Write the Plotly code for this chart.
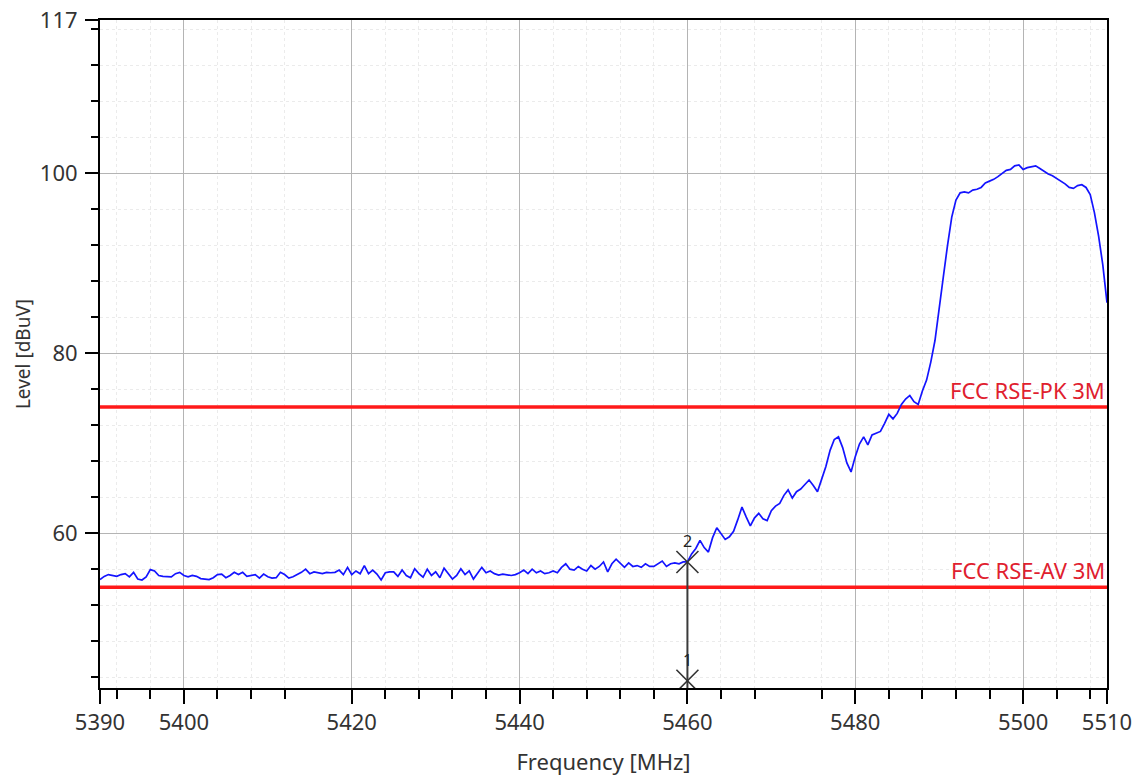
import plotly.graph_objects as go

# ---------------- data ----------------
freq_start_mhz = 5390.0
freq_step_mhz = 0.5

level_dbuv = [
    # 5390 - 5424.5
    54.85, 55.2, 55.4, 55.3, 55.2, 55.4, 55.5, 55.15, 55.65, 54.9,
    54.8, 55.15, 55.95, 55.8, 55.3, 55.2, 55.15, 55.15, 55.5, 55.65,
    55.3, 55.15, 55.3, 55.2, 54.95, 54.9, 54.85, 55.05, 55.4, 55.45,
    55.05, 55.3, 55.65, 55.4, 55.65, 55.2, 55.3, 55.4, 55.0, 55.45,
    55.15, 55.0, 55.05, 55.65, 55.4, 55.0, 55.15, 55.4, 55.65, 56.0,
    55.5, 55.7, 55.6, 55.5, 55.65, 55.6, 55.65, 55.9, 55.4, 56.2,
    55.4, 55.8, 55.5, 56.4, 55.5, 55.9, 55.45, 54.8, 55.6, 55.7,
    # 5425 - 5460
    55.7, 55.2, 55.9, 55.3, 55.05, 56.05, 55.5, 55.1, 56.0, 55.3,
    55.7, 55.05, 56.1, 55.5, 54.9, 55.3, 56.05, 55.4, 55.8, 54.9,
    55.5, 56.2, 55.6, 55.8, 55.5, 55.35, 55.45, 55.35, 55.3, 55.4,
    55.6, 55.9, 55.5, 56.0, 55.6, 55.8, 55.5, 55.6, 55.8, 55.6,
    56.2, 56.6, 56.0, 55.9, 56.3, 56.0, 55.8, 56.4, 56.0, 56.3,
    56.8, 55.7, 56.6, 57.1, 56.6, 56.2, 56.7, 56.3, 56.4, 56.2,
    56.6, 56.3, 56.3, 56.6, 56.9, 56.3, 56.6, 56.7, 56.6, 56.8,
    56.8,
    # 5460.5 - 5510
    57.7, 58.3, 59.2, 58.4, 57.9, 59.5, 60.6, 60.0, 59.3, 59.6,
    60.2, 61.5, 62.9, 61.8, 60.8, 61.7, 62.2, 61.6, 61.4, 62.5,
    63.0, 63.3, 64.2, 64.8, 63.9, 64.6, 64.9, 65.4, 65.9, 65.3,
    64.6, 66.0, 67.4, 69.2, 70.4, 70.7, 69.5, 67.8, 66.8, 68.5,
    69.9, 70.7, 69.8, 70.9, 71.1, 71.3, 72.2, 73.2, 72.7, 73.3,
    74.3, 74.9, 75.3, 74.6, 74.3, 75.8, 77.0, 79.0, 81.4, 85.2,
    88.5, 92.0, 95.1, 97.0, 97.8, 97.9, 97.8, 98.1, 98.2, 98.4,
    98.9, 99.1, 99.3, 99.6, 100.0, 100.3, 100.4, 100.8, 100.9, 100.4,
    100.6, 100.7, 100.8, 100.5, 100.2, 99.9, 99.7, 99.4, 99.1, 98.8,
    98.4, 98.3, 98.6, 98.7, 98.4, 97.6, 95.6, 93.0, 89.8, 85.6,
]
freq_mhz = [freq_start_mhz + freq_step_mhz * i for i in range(len(level_dbuv))]

limit_names = ["FCC RSE-PK 3M", "FCC RSE-AV 3M"]
limit_levels = [74.0, 54.0]

marker_ids = ["1", "2"]
marker_freqs = [5460.0, 5460.0]
marker_levels = [43.6, 56.8]

x_range = [5390, 5510]
y_range = [42.8, 117]
x_tick_vals = [5390, 5400, 5420, 5440, 5460, 5480, 5500, 5510]
x_minor_vals = [5392, 5396, 5404, 5408, 5412, 5424, 5428, 5432, 5436, 5444,
                5448, 5452, 5456, 5464, 5468, 5476, 5484, 5488, 5492, 5496,
                5504, 5508]
y_tick_vals = [60, 80, 100, 117]
y_minor_vals = [44, 48, 52, 56, 64, 68, 72, 76, 84, 88, 92, 96, 104, 108, 112, 116]

x_title = "Frequency [MHz]"
y_title = "Level [dBuV]"

# ---------------- styling ----------------
FONT = "Noto Sans"
TICK_COLOR = "#333333"
LIMIT_COLOR = "#ff1a1a"
LIMIT_TEXT = "#e0202e"

fig = go.Figure()

# limit lines
for name, lvl in zip(limit_names, limit_levels):
    fig.add_trace(go.Scatter(
        x=x_range, y=[lvl, lvl], mode="lines",
        line=dict(color=LIMIT_COLOR, width=3.5), name=name, hoverinfo="skip"))
    fig.add_annotation(
        x=x_range[1], y=lvl, xref="x", yref="y", text=name, showarrow=False,
        xanchor="right", yanchor="bottom", yshift=0, xshift=0,
        font=dict(family=FONT, size=22, color=LIMIT_TEXT))

# measured trace
fig.add_trace(go.Scatter(
    x=freq_mhz, y=level_dbuv, mode="lines",
    line=dict(color="#1414ff", width=1.7), name="Level"))

# marker connecting line + markers
fig.add_trace(go.Scatter(
    x=[marker_freqs[0], marker_freqs[1]], y=[y_range[0], marker_levels[1]],
    mode="lines", line=dict(color="#3a3a3a", width=2), hoverinfo="skip"))
fig.add_trace(go.Scatter(
    x=marker_freqs, y=marker_levels, mode="markers",
    marker=dict(symbol="x-thin-open", size=22,
                line=dict(color="#333333", width=1.6), color="#333333"),
    hoverinfo="skip"))
for mid, mx, my in zip(marker_ids, marker_freqs, marker_levels):
    fig.add_annotation(
        x=mx, y=my, xref="x", yref="y", text=mid, showarrow=False,
        yanchor="bottom", yshift=8,
        font=dict(family=FONT, size=16, color="#222222"))

axis_common = dict(
    showline=True, linecolor="black", linewidth=2, mirror=True,
    ticks="outside", tickcolor="black", tickwidth=1.5,
    showgrid=True, gridcolor="#b4b4b4", gridwidth=1,
    zeroline=False,
    tickfont=dict(family=FONT, size=22, color=TICK_COLOR),
)

fig.update_xaxes(
    **axis_common, range=x_range, tickmode="array", tickvals=x_tick_vals,
    ticktext=[str(v) for v in x_tick_vals], ticklen=14,
    minor=dict(tickmode="array", tickvals=x_minor_vals, ticks="outside",
               ticklen=9, tickcolor="black", tickwidth=1.5,
               showgrid=True, gridcolor="#ebebeb", griddash="dot", gridwidth=1),
    title=dict(text=x_title, font=dict(family=FONT, size=22, color=TICK_COLOR),
               standoff=20),
)
fig.update_yaxes(
    **axis_common, range=y_range, tickmode="array", tickvals=y_tick_vals,
    ticktext=[str(v) for v in y_tick_vals], ticklen=13, ticklabelstandoff=3,
    minor=dict(tickmode="array", tickvals=y_minor_vals, ticks="outside",
               ticklen=7, tickcolor="black", tickwidth=1.5,
               showgrid=True, gridcolor="#ebebeb", griddash="dot", gridwidth=1),
    title=dict(text=y_title, font=dict(family=FONT, size=19, color=TICK_COLOR),
               standoff=4),
)

fig.update_layout(
    width=1139, height=776,
    margin=dict(l=100, r=32, t=20, b=88, autoexpand=False),
    plot_bgcolor="white", paper_bgcolor="white",
    showlegend=False,
    font=dict(family=FONT),
)

fig.write_html("out.html", config={"displayModeBar": False},
               post_script="document.body.style.margin='0';")
